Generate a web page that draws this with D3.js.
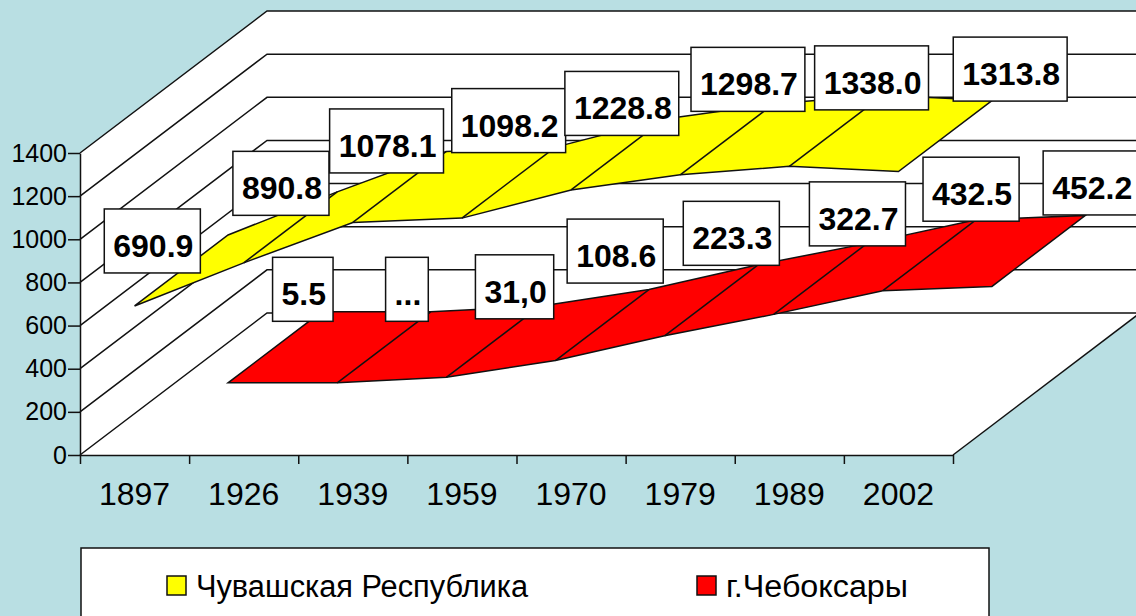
<!DOCTYPE html>
<html>
<head>
<meta charset="utf-8">
<script src="https://cdn.jsdelivr.net/npm/d3@7"></script>
<style>
html,body{margin:0;padding:0;background:#B9DFE3;overflow:hidden}
svg{display:block}
text{font-family:"Liberation Sans",Arial,sans-serif;fill:#000}
</style>
</head>
<body>
<svg id="c" width="1136" height="616"></svg>
<script>
const categories = ["1897","1926","1939","1959","1970","1979","1989","2002"];
const republicValues = [690.9,890.8,1078.1,1098.2,1228.8,1298.7,1338.0,1313.8];
const cityValues = [5.5,5.5,31.0,108.6,223.3,322.7,432.5,452.2];
const republicLabels = ["690.9","890.8","1078.1","1098.2","1228.8","1298.7","1338.0","1313.8"];
const cityLabels = ["5.5","...","31,0","108.6","223.3","322.7","432.5","452.2"];
const seriesNames = ["Чувашская Республика","г.Чебоксары"];
const yTicks = [0,200,400,600,800,1000,1200,1400];

// hand-placed label nudges from the reference (layout only)
const republicNudge = [[-29,-29.5],[-9.5,-44],[-13,-46],[0,-62],[4,-51],[21,-60],[35.5,-53],[65,-67]];
const cityNudge = [[28,-58],[23,-58],[21.5,-55],[13,-74],[20,-67],[37,-65],[41.5,-66],[52.5,-68]];

const svg = d3.select("#c");
const x = d3.scaleBand().domain(categories).range([80,953]);
const edge = d3.scaleLinear().domain([0,categories.length]).range([80,953]);
const y = d3.scaleLinear().domain([0,1400]).range([455,153]);
const depth = d3.scaleLinear().domain([0,1]).range([0,187]);
const lift = d3.scaleLinear().domain([0,1]).range([0,-142]);
const px = (c,d) => x(c)+x.bandwidth()/2+depth(d);
const py = (v,d) => y(v)+lift(d);

// walls and floor
svg.append("path")
  .attr("d", d3.line()([[edge(0),y(1400)],[edge(0)+depth(1),y(1400)+lift(1)],[1142,y(1400)+lift(1)],[1142,y(0)+lift(1)],[edge(8)+depth(1),y(0)+lift(1)],[edge(8),y(0)],[edge(0),y(0)]])+"Z")
  .attr("fill","#fff");

// gridlines
const grid = svg.append("g").attr("stroke","#111").attr("stroke-width",1.5).attr("fill","none");
yTicks.forEach(t=>{
  grid.append("path").attr("d",d3.line()([[edge(0),y(t)],[edge(0)+depth(1),y(t)+lift(1)],[1142,y(t)+lift(1)]]));
});
grid.append("path").attr("d",d3.line()([[edge(8),y(0)],[edge(8)+depth(1),y(0)+lift(1)]]));

// ribbons
function ribbon(values,d0,d1,fill){
  const g = svg.append("g");
  const front = categories.map((c,i)=>[px(c,d0),py(values[i],d0)]);
  const back = categories.map((c,i)=>[px(c,d1),py(values[i],d1)]).reverse();
  g.append("path").attr("d",d3.line()(front.concat(back))+"Z")
    .attr("fill",fill).attr("stroke","#111").attr("stroke-width",1.5);
  categories.forEach((c,i)=>{
    if(i===0||i===categories.length-1) return;
    g.append("line").attr("x1",px(c,d0)).attr("y1",py(values[i],d0))
      .attr("x2",px(c,d1)).attr("y2",py(values[i],d1))
      .attr("stroke","#111").attr("stroke-width",1.5);
  });
}
ribbon(cityValues,0.5,1,"#FF0000");
ribbon(republicValues,0,0.5,"#FFFF00");

// axes
const yAxis = svg.append("g").attr("transform",`translate(${edge(0)},0)`)
  .call(d3.axisLeft(y).tickValues(yTicks).tickSize(12).tickSizeOuter(0).tickPadding(1).tickFormat(d3.format("d")));
yAxis.selectAll("text").attr("font-size",25).attr("fill","#000");
const tickAxis = svg.append("g").attr("transform",`translate(0,${y(0)})`)
  .call(d3.axisBottom(edge).tickValues(d3.range(categories.length+1)).tickSize(9).tickSizeOuter(0).tickFormat(""));
const xAxis = svg.append("g").attr("transform",`translate(0,${y(0)})`)
  .call(d3.axisBottom(x).tickSize(0).tickSizeOuter(0).tickPadding(27));
xAxis.select(".domain").remove();
xAxis.selectAll("text").attr("font-size",32).attr("fill","#000");
[yAxis,tickAxis].forEach(a=>a.selectAll("line,path").attr("stroke","#111").attr("stroke-width",1.5));

// data labels
function labels(values,texts,nudge,d){
  categories.forEach((c,i)=>{
    const cx = px(c,d)+nudge[i][0], cy = py(values[i],d)+nudge[i][1];
    const g = svg.append("g");
    const r = g.append("rect").attr("fill","#fff").attr("stroke","#111").attr("stroke-width",1.5);
    const t = g.append("text").attr("x",cx+1).attr("y",cy+16).attr("text-anchor","middle")
      .attr("font-size",32).attr("font-weight","bold").text(texts[i]);
    const w = t.node().getComputedTextLength()+16;
    r.attr("x",cx-w/2).attr("y",cy-32).attr("width",w).attr("height",64);
  });
}
labels(cityValues,cityLabels,cityNudge,0.75);
labels(republicValues,republicLabels,republicNudge,0.25);

// legend
const legend = svg.append("g");
legend.append("rect").attr("x",81).attr("y",548).attr("width",908).attr("height",80)
  .attr("fill","#fff").attr("stroke","#111").attr("stroke-width",1.5);
[[167,196,"#FFFF00",332],[697,726,"#FF0000",182]].forEach((e,i)=>{
  legend.append("rect").attr("x",e[0]).attr("y",576).attr("width",19).attr("height",19)
    .attr("fill",e[2]).attr("stroke","#111").attr("stroke-width",1.5);
  legend.append("text").attr("x",e[1]).attr("y",597).attr("font-size",31)
    .attr("textLength",e[3]).attr("lengthAdjust","spacingAndGlyphs").text(seriesNames[i]);
});
</script>
</body>
</html>
